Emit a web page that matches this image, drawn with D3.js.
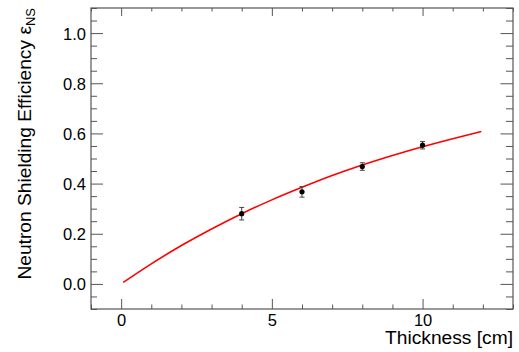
<!DOCTYPE html>
<html>
<head>
<meta charset="utf-8">
<script src="https://cdn.jsdelivr.net/npm/d3@7"></script>
<style>
  body { margin: 0; background: #fff; }
  svg { display: block; font-family: "Liberation Sans", Arial, Helvetica, sans-serif; }
  .axis text { fill: #000; font-size: 16.5px; }
  .axis line { stroke: #555; }
  .axis-title { font-size: 19.2px; fill: #000; }
</style>
</head>
<body>
<div id="chart"></div>
<script>
// measured points (thickness in cm, efficiency, error)
const thickness = [4, 6, 8, 10];
const efficiency = [0.280, 0.367, 0.468, 0.553];
const effError = [0.025, 0.021, 0.015, 0.015];

// fit curve
const fitX = [0.07, 1, 2, 3, 4, 5, 6, 7, 8, 9, 10, 11, 11.95];
const fitY = [0.006, 0.080, 0.153, 0.219, 0.280, 0.335, 0.385, 0.432, 0.474, 0.512, 0.547, 0.579, 0.608];

const xMajorTicks = [0, 5, 10];
const yMajorTicks = [0.0, 0.2, 0.4, 0.6, 0.8, 1.0];

class EfficiencyPlot {

  constructor(_config) {
    this.config = {
      parentElement: _config.parentElement,
      containerWidth: 519,
      containerHeight: 352,
      margin: {top: 8, right: 6, bottom: 43, left: 91},
      xTitle: _config.xTitle,
      yTitle: _config.yTitle,
    };
    this.initVis();
  }

  initVis() {
    let vis = this;
    vis.config.width = vis.config.containerWidth - vis.config.margin.left - vis.config.margin.right;
    vis.config.height = vis.config.containerHeight - vis.config.margin.top - vis.config.margin.bottom;

    vis.xScale = d3.scaleLinear().domain([-1, 13]).range([0, vis.config.width]);
    vis.yScale = d3.scaleLinear().domain([-0.1, 1.1]).range([vis.config.height, 0]);

    vis.svg = d3.select(vis.config.parentElement).append('svg')
        .attr('width', vis.config.containerWidth)
        .attr('height', vis.config.containerHeight);

    vis.chart = vis.svg.append('g')
        .attr('transform', `translate(${vis.config.margin.left},${vis.config.margin.top})`);

    vis.renderVis();
  }

  renderVis() {
    let vis = this;
    const w = vis.config.width, h = vis.config.height;

    const xMinor = d3.range(-1, 14, 1).filter(d => !xMajorTicks.includes(d));
    const yMinor = d3.range(-0.1, 1.1001, 0.05).map(d => +d.toFixed(2))
        .filter(d => !yMajorTicks.some(t => Math.abs(t - d) < 1e-6));

    // bottom axis: major + minor ticks pointing inward
    vis.chart.append('g')
        .attr('class', 'axis')
        .attr('transform', `translate(0,${h})`)
        .call(d3.axisBottom(vis.xScale).tickValues(xMinor).tickSize(-4.5).tickFormat(''))
        .call(g => g.select('.domain').remove());
    vis.chart.append('g')
        .attr('class', 'axis')
        .attr('transform', `translate(0,${h})`)
        .call(d3.axisBottom(vis.xScale).tickValues(xMajorTicks).tickSize(-10).tickPadding(5).tickFormat(d3.format('d')))
        .call(g => g.select('.domain').remove());

    // top axis ticks
    vis.chart.append('g')
        .attr('class', 'axis')
        .call(d3.axisTop(vis.xScale).tickValues(xMinor).tickSize(-3.5).tickFormat(''))
        .call(g => g.select('.domain').remove());
    vis.chart.append('g')
        .attr('class', 'axis')
        .call(d3.axisTop(vis.xScale).tickValues(xMajorTicks).tickSize(-8).tickFormat(''))
        .call(g => g.select('.domain').remove());

    // left axis
    vis.chart.append('g')
        .attr('class', 'axis')
        .call(d3.axisLeft(vis.yScale).tickValues(yMinor).tickSize(-6).tickFormat(''))
        .call(g => g.select('.domain').remove());
    vis.chart.append('g')
        .attr('class', 'axis')
        .call(d3.axisLeft(vis.yScale).tickValues(yMajorTicks).tickSize(-12).tickPadding(5).tickFormat(d3.format('.1f')))
        .call(g => g.select('.domain').remove())
        .call(g => g.selectAll('text').attr('dy', '0.36em'));

    // right axis ticks
    vis.chart.append('g')
        .attr('class', 'axis')
        .attr('transform', `translate(${w},0)`)
        .call(d3.axisRight(vis.yScale).tickValues(yMinor).tickSize(-7).tickFormat(''))
        .call(g => g.select('.domain').remove());
    vis.chart.append('g')
        .attr('class', 'axis')
        .attr('transform', `translate(${w},0)`)
        .call(d3.axisRight(vis.yScale).tickValues(yMajorTicks).tickSize(-12.5).tickFormat(''))
        .call(g => g.select('.domain').remove());

    // frame
    vis.chart.append('rect')
        .attr('x', 0).attr('y', 0)
        .attr('width', w).attr('height', h)
        .attr('fill', 'none')
        .attr('stroke', '#555')
        .attr('stroke-width', 1.2);

    // fit curve
    const fit = fitX.map((x, i) => ({x: x, y: fitY[i]}));
    vis.chart.append('path')
        .datum(fit)
        .attr('fill', 'none')
        .attr('stroke', '#ff0000')
        .attr('stroke-width', 1.6)
        .attr('d', d3.line()
            .x(d => vis.xScale(d.x))
            .y(d => vis.yScale(d.y))
            .curve(d3.curveMonotoneX));

    // data points with error bars
    const pts = thickness.map((t, i) => ({x: t, y: efficiency[i], e: effError[i]}));
    const pg = vis.chart.selectAll('.pt')
        .data(pts)
      .join('g')
        .attr('class', 'pt');
    pg.append('line')
        .attr('x1', d => vis.xScale(d.x)).attr('x2', d => vis.xScale(d.x))
        .attr('y1', d => vis.yScale(d.y - d.e)).attr('y2', d => vis.yScale(d.y + d.e))
        .attr('stroke', '#444').attr('stroke-width', 1);
    [-1, 1].forEach(s => {
      pg.append('line')
          .attr('x1', d => vis.xScale(d.x) - 2.5).attr('x2', d => vis.xScale(d.x) + 2.5)
          .attr('y1', d => vis.yScale(d.y + s * d.e)).attr('y2', d => vis.yScale(d.y + s * d.e))
          .attr('stroke', '#444').attr('stroke-width', 1);
    });
    pg.append('circle')
        .attr('cx', d => vis.xScale(d.x))
        .attr('cy', d => vis.yScale(d.y))
        .attr('r', 2.6)
        .attr('fill', '#000');

    // axis titles
    vis.svg.append('text')
        .attr('class', 'axis-title')
        .attr('x', vis.config.margin.left + w)
        .attr('y', 344)
        .attr('text-anchor', 'end')
        .text(vis.config.xTitle);

    const yt = vis.svg.append('text')
        .attr('class', 'axis-title')
        .attr('font-size', '20px')
        .attr('transform', `translate(31,8) rotate(-90)`)
        .attr('text-anchor', 'end');
    yt.append('tspan').text(vis.config.yTitle + ' \u03b5');
    yt.append('tspan')
        .attr('font-size', '13px')
        .attr('dy', 4)
        .text('NS');
  }
}

new EfficiencyPlot({
  parentElement: '#chart',
  xTitle: 'Thickness [cm]',
  yTitle: 'Neutron Shielding Efficiency'
});
</script>
</body>
</html>
